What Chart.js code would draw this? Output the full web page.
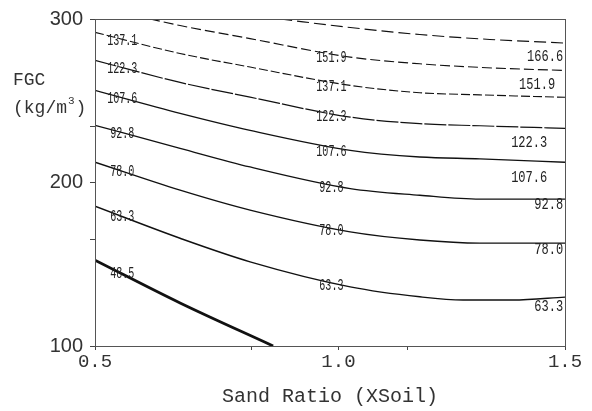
<!DOCTYPE html>
<html>
<head>
<meta charset="utf-8">
<script src="https://cdn.jsdelivr.net/npm/chart.js@4.4.1/dist/chart.umd.min.js"></script>
<style>
html,body{margin:0;padding:0;background:#fff;}
canvas{display:block;}
</style>
</head>
<body>
<canvas id="c" width="592" height="411"></canvas>
<script>
// ---- axis ticks ----
const xTickValues = [0.5, 0.833, 1.018, 1.165, 1.5];
const xTickLabels = ['0.5', '', '1.0', '', '1.5'];
const yTickValues = [100, 165.3, 200, 234.2, 300];
const yTickLabels = ['100', '', '200', '', '300'];

// ---- contour lines: [sand ratio, FGC] ----
const contourLevels = ['166.6', '151.9', '137.1', '122.3', '107.6', '92.8', '78.0', '63.3', '48.5'];
const line166_6 = [[0.894,300],[1.043,294.8],[1.191,290.5],[1.340,287.5],[1.5,285.3]];
const line151_9 = [[0.617,300],[0.681,296.0],[0.830,288.0],[1.043,276.7],[1.191,272.6],[1.319,270.4],[1.5,268.5]];
const line137_1 = [[0.5,291.8],[0.681,278.9],[0.830,270.6],[1.043,259.4],[1.191,254.9],[1.319,253.6],[1.5,252.1]];
const line122_3 = [[0.5,274.7],[0.681,261.2],[0.830,252.2],[1.043,240.0],[1.191,236.0],[1.319,234.7],[1.5,233.1]];
const line107_6 = [[0.5,256.3],[0.681,242.3],[0.830,231.9],[1.043,219.7],[1.191,215.6],[1.319,214.5],[1.5,212.4]];
const line92_8  = [[0.5,235.0],[0.681,220.9],[0.830,209.5],[1.043,196.3],[1.191,192.2],[1.319,189.8],[1.5,189.8]];
const line78_0  = [[0.5,212.4],[0.681,195.3],[0.830,183.1],[1.043,169.8],[1.191,164.8],[1.319,162.9],[1.5,162.9]];
const line63_3  = [[0.5,185.5],[0.681,165.9],[0.830,151.5],[1.043,136.2],[1.191,130.1],[1.283,128.1],[1.389,128.1],[1.5,129.9]];
const line48_5  = [[0.5,152.5],[0.681,126.3],[0.879,100.0]];

// ---- contour label anchors (data coordinates) ----
const labelsLeft   = ['137.1','122.3','107.6','92.8','78.0','63.3','48.5'];
const labelsLeftX  = 0.558;
const labelsLeftY  = [286.9, 269.8, 251.4, 230.1, 206.3, 179.0, 144.3];
const labelsMid    = ['151.9','137.1','122.3','107.6','92.8','78.0','63.3'];
const labelsMidX   = 1.003;
const labelsMidY   = [276.2, 258.8, 240.5, 219.1, 196.8, 170.2, 136.6];
const labelsRight  = ['166.6','151.9','122.3','107.6','92.8','78.0','63.3'];
const labelsRightX = [1.496, 1.479, 1.462, 1.462, 1.496, 1.496, 1.496];
const labelsRightY = [277.1, 260.0, 224.6, 202.9, 186.1, 158.6, 123.8];

const lineData = [line166_6, line151_9, line137_1, line122_3, line107_6, line92_8, line78_0, line63_3, line48_5];
const dashes = [[12,5],[10,4],[9,3],[22,2],[],[],[],[],[]];
const widths = [1.1,1.1,1.1,1.2,1.3,1.3,1.4,1.4,2.8];

const datasets = lineData.map((pts, i) => ({
  label: contourLevels[i],
  data: pts.map(p => ({x: p[0], y: p[1]})),
  borderColor: '#111',
  borderWidth: widths[i],
  borderDash: dashes[i],
  pointRadius: 0,
  fill: false,
  cubicInterpolationMode: 'monotone'
}));

function drawNarrow(ctx, text, x, y, align, size, sx) {
  ctx.save();
  ctx.font = size + 'px "Liberation Mono"';
  const w = ctx.measureText(text).width * sx;
  let left = x;
  if (align === 'center') left = x - w / 2;
  else if (align === 'right') left = x - w;
  ctx.translate(left, y);
  ctx.scale(sx, 1);
  ctx.textAlign = 'left';
  ctx.textBaseline = 'middle';
  ctx.fillText(text, 0, 0);
  ctx.restore();
}

const decor = {
  id: 'decor',
  afterDatasetsDraw(chart) {
    const ctx = chart.ctx, xs = chart.scales.x, ys = chart.scales.y, a = chart.chartArea;
    ctx.save();
    // frame
    ctx.strokeStyle = '#555';
    ctx.lineWidth = 1;
    ctx.strokeRect(a.left + 0.5, a.top + 0.5, a.right - a.left, a.bottom - a.top);
    // contour labels
    ctx.fillStyle = '#222';
    labelsLeft.forEach((t, i) => drawNarrow(ctx, t, xs.getPixelForValue(labelsLeftX), ys.getPixelForValue(labelsLeftY[i]), 'center', 16, 0.63));
    labelsMid.forEach((t, i) => drawNarrow(ctx, t, xs.getPixelForValue(labelsMidX), ys.getPixelForValue(labelsMidY[i]), 'center', 16, 0.63));
    labelsRight.forEach((t, i) => drawNarrow(ctx, t, xs.getPixelForValue(labelsRightX[i]), ys.getPixelForValue(labelsRightY[i]), 'right', 16, 0.75));
    // y-axis title
    ctx.fillStyle = '#333';
    ctx.textBaseline = 'middle';
    ctx.textAlign = 'left';
    ctx.font = '18px "Liberation Mono"';
    ctx.fillText('FGC', 13, 80);
    ctx.fillText('(kg/m', 13, 108);
    const w1 = ctx.measureText('(kg/m').width;
    ctx.font = '11px "Liberation Mono"';
    ctx.fillText('3', 13 + w1 + 1, 101);
    const w2 = ctx.measureText('3').width;
    ctx.font = '18px "Liberation Mono"';
    ctx.fillText(')', 13 + w1 + w2 + 2, 108);
    ctx.restore();
  }
};

new Chart(document.getElementById('c'), {
  type: 'line',
  data: { datasets },
  options: {
    responsive: false,
    animation: false,
    devicePixelRatio: 1,
    layout: { padding: { top: 18, right: 27, left: 0, bottom: 0 } },
    plugins: { legend: { display: false }, tooltip: { enabled: false } },
    scales: {
      x: {
        type: 'linear', min: 0.5, max: 1.5,
        afterBuildTicks: s => { s.ticks = xTickValues.map(v => ({ value: v })); },
        afterFit: s => { s.height = 65; },
        ticks: {
          autoSkip: false, maxRotation: 0, padding: 1,
          callback: v => { const i = xTickValues.indexOf(v); return i >= 0 ? xTickLabels[i] : ''; },
          font: { family: 'Liberation Mono', size: 19 }, color: '#333'
        },
        grid: { drawOnChartArea: false, drawTicks: true, tickLength: 4, color: '#444' },
        border: { color: '#444', width: 1 },
        title: {
          display: true, text: 'Sand Ratio (XSoil)',
          font: { family: 'Liberation Mono', size: 20 }, color: '#333',
          padding: { top: 2, bottom: 2 }
        }
      },
      y: {
        type: 'linear', min: 100, max: 300,
        afterBuildTicks: s => { s.ticks = yTickValues.map(v => ({ value: v })); },
        afterFit: s => { s.width = 95; },
        ticks: {
          autoSkip: false, padding: 7,
          callback: v => { const i = yTickValues.indexOf(v); return i >= 0 ? yTickLabels[i] : ''; },
          font: { family: 'Liberation Sans', size: 20 }, color: '#333'
        },
        grid: { drawOnChartArea: false, drawTicks: true, tickLength: 5, color: '#444' },
        border: { color: '#444', width: 1 }
      }
    }
  },
  plugins: [decor]
});
</script>
</body>
</html>
